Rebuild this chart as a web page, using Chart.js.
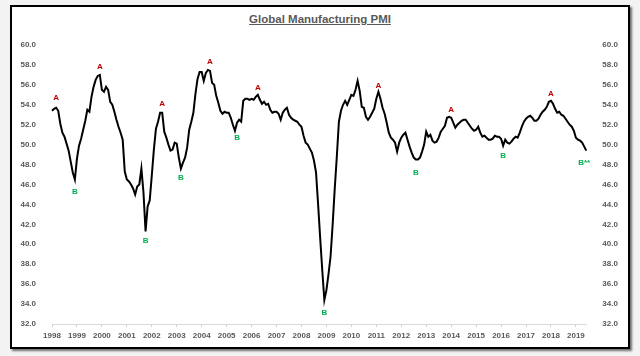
<!DOCTYPE html>
<html>
<head>
<meta charset="utf-8">
<script src="https://cdn.jsdelivr.net/npm/chart.js@4/dist/chart.umd.min.js"></script>
<style>
  html, body { margin:0; padding:0; width:640px; height:356px; background:#f3f3f3; overflow:hidden; }
  #frame { position:absolute; left:10px; top:5px; width:616px; height:340px; background:#fff;
           border:2px solid #000; box-shadow:2px 2px 2px rgba(0,0,0,0.55); }
  #title { position:absolute; left:0; top:13px; width:640px; text-align:center;
           font-family:"Liberation Sans", Arial, sans-serif; font-weight:bold; font-size:11.5px;
           color:#595959; text-decoration:underline; }
  #wrap { position:absolute; left:0; top:0; width:640px; height:356px; }
</style>
</head>
<body>
<div id="frame"></div>
<div id="title">Global Manufacturing PMI</div>
<div id="wrap"><canvas id="c" width="640" height="356"></canvas></div>
<script>
// ---- Data (monthly, Jan 1998 – Jun 2019) ----
const years = ['1998','1999','2000','2001','2002','2003','2004','2005','2006','2007','2008',
               '2009','2010','2011','2012','2013','2014','2015','2016','2017','2018','2019'];
const pmi1998 = [53.4, 53.6, 53.7, 53.4, 52.1, 51.2, 50.8, 50.1, 49.4, 48.3, 47.2, 46.5];
const pmi1999 = [48.6, 49.9, 50.6, 51.5, 52.4, 53.5, 53.3, 54.8, 55.8, 56.5, 56.9, 57.0];
const pmi2000 = [55.5, 55.3, 55.8, 55.5, 54.3, 54.0, 53.3, 52.5, 51.8, 51.2, 50.5, 47.3];
const pmi2001 = [46.5, 46.3, 46.0, 45.6, 45.0, 45.8, 46.0, 47.6, 45.2, 41.3, 43.8, 44.4];
const pmi2002 = [46.9, 49.5, 51.6, 52.3, 53.2, 53.2, 51.3, 50.7, 50.0, 49.4, 49.5, 50.2];
const pmi2003 = [50.1, 48.7, 47.6, 48.2, 48.7, 49.7, 51.5, 52.3, 53.2, 55.1, 56.6, 57.3];
const pmi2004 = [57.3, 56.4, 57.2, 57.5, 57.4, 56.2, 56.0, 54.9, 54.2, 53.4, 53.1, 53.3];
const pmi2005 = [53.2, 53.2, 52.7, 52.0, 51.4, 52.2, 52.5, 52.3, 54.4, 54.6, 54.6, 54.5];
const pmi2006 = [54.6, 54.5, 54.8, 55.0, 54.5, 54.1, 54.3, 54.0, 54.1, 53.5, 53.2, 53.3];
const pmi2007 = [53.3, 53.1, 52.5, 53.2, 53.5, 53.7, 53.0, 52.7, 52.5, 52.4, 52.3, 52.0];
const pmi2008 = [51.8, 50.9, 50.2, 50.0, 49.6, 49.2, 48.4, 47.2, 44.0, 40.6, 37.4, 34.4];
const pmi2009 = [35.4, 37.0, 38.8, 42.0, 45.6, 48.8, 52.3, 53.4, 54.0, 54.4, 54.0, 54.5];
const pmi2010 = [55.0, 54.9, 55.5, 56.4, 55.4, 53.8, 53.7, 52.8, 52.5, 52.8, 53.2, 53.6];
const pmi2011 = [54.6, 55.3, 54.6, 53.7, 53.1, 52.2, 51.2, 50.7, 50.5, 50.2, 49.3, 50.2];
const pmi2012 = [50.7, 51.0, 51.2, 50.5, 49.8, 49.2, 48.7, 48.5, 48.5, 48.7, 49.3, 50.0];
const pmi2013 = [51.3, 50.8, 51.0, 50.4, 50.2, 50.3, 50.7, 51.3, 51.6, 51.9, 52.7, 52.8];
const pmi2014 = [52.7, 52.2, 51.7, 52.0, 52.2, 52.4, 52.5, 52.5, 52.2, 51.9, 51.6, 51.4];
const pmi2015 = [51.5, 51.8, 51.2, 50.8, 50.9, 50.7, 50.5, 50.5, 50.6, 50.9, 50.8, 50.8];
const pmi2016 = [50.6, 49.9, 50.5, 50.2, 50.1, 50.3, 50.6, 50.8, 50.7, 51.2, 51.8, 52.3];
const pmi2017 = [52.6, 52.8, 52.9, 52.7, 52.4, 52.4, 52.6, 53.0, 53.3, 53.5, 53.8, 54.3];
const pmi2018 = [54.4, 54.1, 53.6, 53.2, 53.3, 53.0, 52.9, 52.6, 52.3, 52.0, 51.8, 51.4];
const pmi2019 = [50.7, 50.5, 50.4, 50.2, 49.8, 49.4];

// Peak (A) / trough (B) markers: text, month index, value position
const markText  = ['A','B','A','B','A','B','A','B','A','B','A','B','A','B','A','B**'];
const markIndex = [2, 11, 23, 45, 53, 62, 76, 89, 99, 131, 157, 175, 192, 217, 240, 256];
const markValue = [54.7, 45.3, 57.8, 40.4, 54.1, 46.7, 58.3, 50.7, 55.7, 33.1, 55.9, 47.2, 53.45, 48.9, 55.1, 48.2];

const yMin = 32, yMax = 60, yStep = 2;

// ---- Build series ----
const values = [].concat(pmi1998, pmi1999, pmi2000, pmi2001, pmi2002, pmi2003, pmi2004, pmi2005,
  pmi2006, pmi2007, pmi2008, pmi2009, pmi2010, pmi2011, pmi2012, pmi2013, pmi2014, pmi2015,
  pmi2016, pmi2017, pmi2018, pmi2019);
const labels = values.map((v, i) => years[Math.floor(i / 12)] + '-' + String(i % 12 + 1).padStart(2, '0'));

const FONT = '"Liberation Sans", Arial, sans-serif';
const tickFont = { family: FONT, size: 8, weight: 'bold' };

const markPlugin = {
  id: 'marks',
  afterDatasetsDraw(chart) {
    const { ctx, scales } = chart;
    ctx.save();
    ctx.font = 'bold 8px ' + FONT;
    ctx.textAlign = 'center';
    ctx.textBaseline = 'middle';
    markText.forEach((t, k) => {
      ctx.fillStyle = t.startsWith('A') ? '#c00000' : '#00b050';
      ctx.fillText(t, scales.x.getPixelForValue(markIndex[k]), scales.y.getPixelForValue(markValue[k]));
    });
    ctx.restore();
  }
};

new Chart(document.getElementById('c'), {
  type: 'line',
  data: {
    labels: labels,
    datasets: [{
      data: values,
      borderColor: '#000',
      borderWidth: 2,
      pointRadius: 0,
      tension: 0,
      fill: false,
      yAxisID: 'y'
    }]
  },
  options: {
    responsive: false,
    animation: false,
    layout: { padding: { top: 45, bottom: 0, left: 0, right: 0 } },
    plugins: { legend: { display: false }, tooltip: { enabled: false } },
    scales: {
      x: {
        type: 'category',
        offset: false,
        grid: {
          display: true, drawOnChartArea: false, drawTicks: true, tickLength: 3,
          color: (c) => (c.index % 12 === 0 ? '#d0d0d0' : 'rgba(0,0,0,0)')
        },
        border: { display: true, color: '#d9d9d9', width: 1 },
        ticks: {
          autoSkip: false, maxRotation: 0, minRotation: 0, padding: 4,
          color: '#595959', font: tickFont,
          callback: (v, i) => (i % 12 === 0 ? years[i / 12] : '')
        },
        afterFit: (s) => { s.height = 32; }
      },
      y: {
        position: 'left', min: yMin, max: yMax,
        grid: { display: false }, border: { display: false },
        ticks: { stepSize: yStep, padding: 8, color: '#595959', font: tickFont,
                 callback: (v) => Number(v).toFixed(1) },
        afterFit: (s) => { s.width = 52; }
      },
      y2: {
        position: 'right', min: yMin, max: yMax,
        grid: { display: false }, border: { display: false },
        ticks: { stepSize: yStep, padding: 8, color: '#595959', font: tickFont,
                 callback: (v) => Number(v).toFixed(1) },
        afterFit: (s) => { s.width = 53.7; }
      }
    }
  },
  plugins: [markPlugin]
});
</script>
</body>
</html>
